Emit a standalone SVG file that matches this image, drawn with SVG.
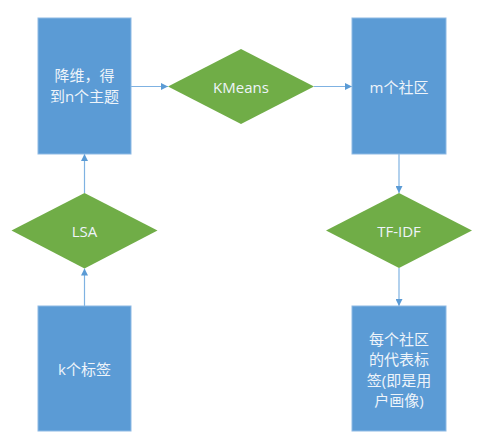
<svg xmlns="http://www.w3.org/2000/svg" width="484" height="448" viewBox="0 0 484 448">
<defs>
<style>
.box{fill:#5B9BD5;stroke:#8DB9E4;stroke-width:1}
.dia{fill:#70AD47;stroke:none}
.lbl{font-family:"Open Sans","Noto Sans CJK SC",sans-serif;font-size:15px;fill:#EEF4FA;text-anchor:middle;dominant-baseline:central}
.con{stroke:#7FB2E2;stroke-width:1.2;fill:none;marker-end:url(#arr)}
</style>
<marker id="arr" viewBox="0 0 10 10" refX="10" refY="5" markerWidth="7" markerHeight="7" markerUnits="userSpaceOnUse" orient="auto">
<path d="M0,0 L10,5 L0,10 z" fill="#5B9BD5"/>
</marker>
</defs>
<rect width="484" height="448" fill="#FFFFFF"/>
<g id="connectors">
<line class="con" x1="131" y1="86.5" x2="168" y2="86.5"/>
<line class="con" x1="314" y1="86.5" x2="352" y2="86.5"/>
<line class="con" x1="399" y1="154" x2="399" y2="193"/>
<line class="con" x1="399" y1="268" x2="399" y2="306"/>
<line class="con" x1="84.5" y1="306" x2="84.5" y2="268.5"/>
<line class="con" x1="84.5" y1="193" x2="84.5" y2="154"/>
</g>
<g id="n1">
<rect class="box" x="38" y="18" width="93" height="136"/>
<text class="lbl" x="84.5" y="75">降维，得</text>
<text class="lbl" x="84.5" y="96">到n个主题</text>
</g>
<g id="kmeans">
<polygon class="dia" points="241,49 314,86.5 241,124 168,86.5"/>
<text class="lbl" x="241" y="86.5">KMeans</text>
</g>
<g id="m">
<rect class="box" x="352" y="18" width="94" height="136"/>
<text class="lbl" x="399" y="86.5">m个社区</text>
</g>
<g id="tfidf">
<polygon class="dia" points="399,193 472,230.5 399,268 326,230.5"/>
<text class="lbl" x="399" y="230.5">TF-IDF</text>
</g>
<g id="rep">
<rect class="box" x="352" y="306" width="94" height="125"/>
<text class="lbl" x="399" y="338.5">每个社区</text>
<text class="lbl" x="399" y="359">的代表标</text>
<text class="lbl" x="399" y="379.5">签(即是用</text>
<text class="lbl" x="399" y="400">户画像)</text>
</g>
<g id="lsa">
<polygon class="dia" points="84.5,193 157.5,230.5 84.5,268.5 11.5,230.5"/>
<text class="lbl" x="84.5" y="231">LSA</text>
</g>
<g id="k">
<rect class="box" x="38" y="306" width="93" height="125"/>
<text class="lbl" x="84.5" y="369">k个标签</text>
</g>
</svg>
